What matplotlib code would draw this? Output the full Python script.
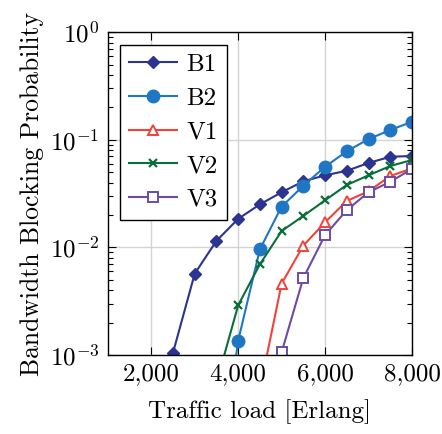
import numpy as np
import matplotlib
matplotlib.use('Agg')
import matplotlib.pyplot as plt
from matplotlib.ticker import FuncFormatter, LogLocator, FixedLocator, NullFormatter

plt.rcParams['font.family'] = 'serif'
plt.rcParams['font.serif'] = ['cmr10', 'DejaVu Serif']
plt.rcParams['mathtext.fontset'] = 'cm'
plt.rcParams['axes.formatter.use_mathtext'] = True
plt.rcParams['axes.unicode_minus'] = False

# traffic load (Erlang)
load = [2500, 3000, 3500, 4000, 4500, 5000, 5500, 6000, 6500, 7000, 7500, 8000]

# blocking probabilities (nan = nothing drawn)
b1 = [1.05e-3, 5.7e-3, 0.0115, 0.0184, 0.0251, 0.0325, 0.0411, 0.0467, 0.0515, 0.0608, 0.0695, 0.0706]
b2 = [np.nan, np.nan, 4.5e-5, 1.36e-3, 9.6e-3, 0.0239, 0.0374, 0.0562, 0.078, 0.1015, 0.123, 0.147]
v1 = [np.nan, np.nan, np.nan, np.nan, 4.8e-4, 4.6e-3, 0.0104, 0.0171, 0.027, 0.0332, 0.046, 0.0542]
v2 = [np.nan, np.nan, 5.5e-4, 2.9e-3, 6.97e-3, 0.0142, 0.0196, 0.0274, 0.038, 0.0467, 0.057, 0.0648]
v3 = [np.nan, np.nan, np.nan, np.nan, np.nan, 1.06e-3, 5.2e-3, 0.013, 0.0222, 0.0325, 0.0407, 0.0535]

fig = plt.figure(figsize=(4.42, 4.34), dpi=100)
ax = fig.add_axes([0.244, 0.182, 0.688, 0.744])

ax.plot(load, b1, color='#2b3590', marker='D', markersize=6, lw=1.5, label='B1')
ax.plot(load, b2, color='#1f77c4', marker='o', markersize=9, lw=1.5, label='B2')
ax.plot(load, v1, color='#f0433a', marker='^', markersize=7.5, mfc='white', mew=1.4, lw=1.5, label='V1')
ax.plot(load, v2, color='#0a6e3a', marker='x', markersize=6, mew=1.6, lw=1.5, label='V2')
ax.plot(load, v3, color='#6d4ba5', marker='s', markersize=7.5, mfc='white', mew=1.4, lw=1.5, label='V3')

ax.set_yscale('log')
ax.set_ylim(1e-3, 1)
ax.set_xlim(1000, 8000)
ax.xaxis.set_major_locator(FixedLocator([2000, 4000, 6000, 8000]))
ax.xaxis.set_major_formatter(FuncFormatter(lambda v, p: f'{int(v):,}'))
ax.yaxis.set_major_locator(LogLocator(base=10, numticks=10))
ax.yaxis.set_minor_locator(LogLocator(base=10, subs=np.arange(2, 10), numticks=10))
ax.yaxis.set_minor_formatter(NullFormatter())

ax.grid(True, which='major', color='#d4d4d4', lw=1)
ax.set_axisbelow(True)
ax.tick_params(which='both', direction='in', top=True, right=True, labelsize=18, width=0.8)
ax.tick_params(which='major', length=6, pad=6)
ax.tick_params(which='minor', length=3.5)
for s in ax.spines.values():
    s.set_linewidth(1)

ax.set_xlabel('Traffic load [Erlang]', fontsize=18, labelpad=10)
ax.set_ylabel('Bandwidth Blocking Probability', fontsize=18.5, labelpad=4)

leg = ax.legend(loc='upper left', fontsize=18, fancybox=False, edgecolor='black',
                framealpha=1, handlelength=1.9, borderaxespad=0.5, labelspacing=0.45,
                handletextpad=0.4, borderpad=0.35)
leg.get_frame().set_linewidth(1)

fig.savefig('out.png', dpi=100)
